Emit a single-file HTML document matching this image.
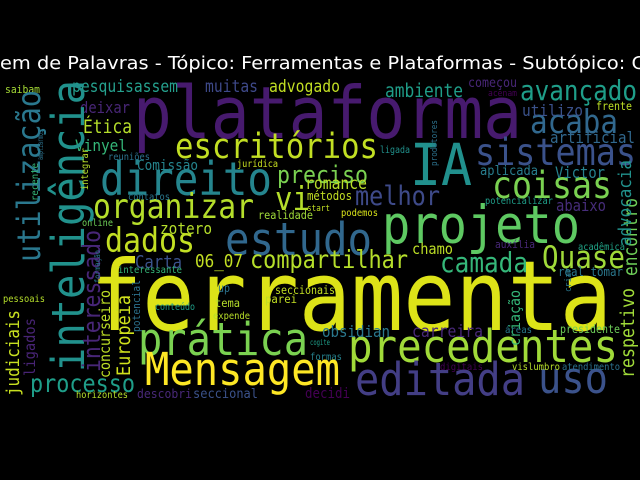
<!DOCTYPE html>
<html><head><meta charset="utf-8"><style>
html,body{margin:0;padding:0;background:#000;}
svg{display:block;}
</style></head><body>
<svg id="wc" width="640" height="480" viewBox="0 0 640 480" xmlns="http://www.w3.org/2000/svg">
<rect width="640" height="480" fill="#000"/>
<text x="0" y="69" font-family="'DejaVu Sans','Liberation Sans',sans-serif" font-size="18" fill="#fff" textLength="645" lengthAdjust="spacingAndGlyphs">em de Palavras - Tópico: Ferramentas e Plataformas - Subtópico: C</text>
<g id="words"></g>
</svg>
<script>
// horizontal words: text, left x, baseline y, width, color
const hWords = [
["ferramenta",90,330,522,"#dde318"],
["plataforma",133,138,389,"#471a6e"],
["IA",410,185,62,"#21908d"],
["projeto",382,243,198,"#5ec962"],
["direito",100,195,172,"#25858e"],
["estudo",225,255,147,"#31688e"],
["organizar",93,218,161,"#b5de2b"],
["vi",275,210,35,"#b5de2b"],
["escritórios",175,158,203,"#c2df23"],
["preciso",277,183,91,"#7ad151"],
["melhor",355,205,85,"#3e4a89"],
["coisas",492,198,120,"#7ad151"],
["sistemas",475,165,161,"#3b528b"],
["acaba",530,133,88,"#31688e"],
["avançado",520,100,117,"#1f9e89"],
["ambiente",385,97,78,"#1f9e89"],
["utilizo",522,116,61,"#3b528b"],
["artificial",550,143,85,"#31688e"],
["Victor",555,178,50,"#26828e"],
["aplicada",480,175,58,"#287d8e"],
["abaixo",556,211,50,"#472d7b"],
["potencializar",485,204,68,"#1f9e89"],
["frente",596,110,36,"#bddf26"],
["começou",468,87,49,"#482677"],
["acenam",488,96,29,"#440154"],
["ligada",380,153,30,"#21918c"],
["romance",305,189,62,"#b8de29"],
["métodos",307,200,45,"#c2df23"],
["start",307,211,23,"#c2df23"],
["podemos",341,216,37,"#d8e219"],
["realidade",258,219,55,"#a0da39"],
["jurídica",237,167,41,"#c8e020"],
["contatos",128,200,42,"#2a788e"],
["online",82,226,31,"#6ece58"],
["zotero",160,234,52,"#b5de2b"],
["dados",105,252,90,"#c2df23"],
["Carta",135,268,47,"#3b528b"],
["06_07",195,267,48,"#c2df23"],
["compartilhar",250,268,158,"#b5de2b"],
["chamo",412,254,41,"#bddf26"],
["auxília",495,248,40,"#482878"],
["camada",440,272,88,"#35b779"],
["Quase",542,268,83,"#a0da39"],
["acadêmica",578,250,47,"#20a386"],
["real tomar",558,276,65,"#2a788e"],
["pesquisassem",72,92,106,"#25a18e"],
["muitas",205,92,53,"#3e4989"],
["advogado",269,92,71,"#c2df23"],
["saibam",5,93,35,"#a5db36"],
["deixar",80,113,50,"#482677"],
["Ética",83,133,49,"#b5de2b"],
["Vinyel",75,151,52,"#35b779"],
["reuniões",108,160,42,"#2c728e"],
["Comissão",137,170,61,"#25858e"],
["pessoais",3,302,42,"#b5de2b"],
["interessante",118,273,64,"#35b779"],
["up",218,292,12,"#2c728e"],
["seccionais",275,294,60,"#c2df23"],
["parei",265,303,32,"#c2df23"],
["conteúdo",155,310,40,"#1f9e89"],
["tema",215,307,25,"#b5de2b"],
["expende",213,319,37,"#b8de29"],
["prática",138,355,170,"#7ad151"],
["precedentes",348,362,270,"#a0da39"],
["obsidian",322,337,68,"#2a788e"],
["carreira",412,337,71,"#482878"],
["áreas",505,333,27,"#29798e"],
["presidente",560,333,60,"#6ece58"],
["cogite",310,345,20,"#1f9e89"],
["formas",310,360,32,"#26828e"],
["Mensagem",145,385,195,"#fde725"],
["processo",30,392,105,"#1f9e89"],
["editada",355,395,170,"#433e85"],
["uso",538,393,70,"#3b528b"],
["digitais",440,370,43,"#440154"],
["vislumbro",512,370,48,"#b5de2b"],
["atendimento",562,370,58,"#2c728e"],
["horizontes",76,398,52,"#b5de2b"],
["descobri",137,398,55,"#482878"],
["seccional",193,398,65,"#3b528b"],
["decidi",305,398,45,"#440154"]
];
// vertical words: text, baseline x, bottom y, length, color
const vWords = [
["utilização",40,262,172,"#2a788e"],
["inteligência",84,372,292,"#21918c"],
["interessado",100,372,142,"#482677"],
["concurseiro",110,378,88,"#bddf26"],
["formação",100,283,33,"#2a788e"],
["potencial",140,332,52,"#2c728e"],
["Europeia",130,376,81,"#d0e11c"],
["judiciais",19,396,86,"#c8e020"],
["ligados",35,376,58,"#482475"],
["integrar",88,190,42,"#b8de29"],
["ampliarmos",43,160,30,"#2c728e"],
["recente",38,201,38,"#35b779"],
["produtores",437,166,46,"#2c728e"],
["encontro",637,276,78,"#6ece58"],
["advocacia",631,246,86,"#21918c"],
["respetivo",634,378,90,"#a0da39"],
["criar",571,292,24,"#2a788e"],
["criação",520,346,56,"#35b779"]
];
const NS = "http://www.w3.org/2000/svg";
const g = document.getElementById("words");
function fs(t, w){ return Math.max(8, 1.12 * w / (t.length * 0.6)); }
hWords.forEach(function(d){
  const el = document.createElementNS(NS, "text");
  
  
  el.setAttribute("x", d[1]); el.setAttribute("y", d[2]);
  el.setAttribute("font-size", fs(d[0], d[3]).toFixed(1));
  el.setAttribute("font-family", "'DejaVu Sans Mono','Liberation Mono',monospace");
  el.setAttribute("fill", d[4]);
  el.setAttribute("textLength", d[3]);
  el.setAttribute("lengthAdjust", "spacingAndGlyphs");
  el.textContent = d[0];
  g.appendChild(el);
});
vWords.forEach(function(d){
  const el = document.createElementNS(NS, "text");
  
  
  el.setAttribute("x", 0); el.setAttribute("y", 0);
  el.setAttribute("transform", "translate(" + d[1] + "," + d[2] + ") rotate(-90)");
  el.setAttribute("font-size", fs(d[0], d[3]).toFixed(1));
  el.setAttribute("font-family", "'DejaVu Sans Mono','Liberation Mono',monospace");
  el.setAttribute("fill", d[4]);
  el.setAttribute("textLength", d[3]);
  el.setAttribute("lengthAdjust", "spacingAndGlyphs");
  el.textContent = d[0];
  g.appendChild(el);
});
</script>
</body></html>
